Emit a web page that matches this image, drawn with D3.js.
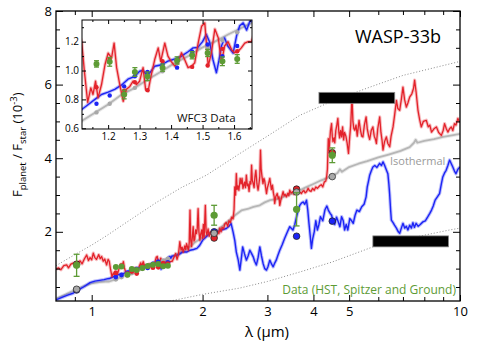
<!DOCTYPE html>
<html>
<head>
<meta charset="utf-8">
<script src="https://cdn.jsdelivr.net/npm/d3@7"></script>
<style>
body { margin: 0; background: #fff; }
</style>
</head>
<body>
<svg id="chart" width="479" height="349"></svg>
<script>
// ---- data (wavelength in micron, flux ratio in 1e-3) ----
var redModel = [
  [0.800,0.98],[0.812,1.02],[0.825,0.97],[0.84,1.08],[0.855,1.10],[0.865,1.02],[0.878,1.12],[0.891,1.15],[0.905,1.08],[0.918,1.18],
  [0.93,1.21],[0.942,1.13],[0.955,1.26],[0.969,1.37],[0.98,1.22],[0.99,1.30],[1.0,1.24],[1.01,1.42],[1.02,1.30],[1.03,1.25],
  [1.045,1.38],[1.055,1.27],[1.064,1.33],[1.075,1.20],[1.085,1.26],[1.098,1.10],[1.108,1.25],
  [1.116,1.20],[1.124,1.007],[1.135,0.78],[1.145,0.88],[1.152,0.834],[1.16,0.926],[1.168,0.81],[1.179,0.903],[1.19,1.04],[1.2,1.12],
  [1.211,1.088],[1.219,1.19],[1.227,1.02],[1.237,0.903],[1.248,0.787],[1.258,0.87],[1.269,0.89],[1.279,0.926],[1.29,0.903],[1.30,0.926],
  [1.311,1.02],[1.319,0.87],[1.327,0.857],[1.336,0.96],[1.348,1.076],[1.359,1.157],[1.367,1.064],[1.38,1.19],[1.39,1.10],[1.40,1.064],
  [1.412,1.03],[1.422,1.053],[1.433,1.123],[1.443,1.076],[1.454,1.02],[1.465,1.03],[1.475,1.053],[1.486,1.19],[1.497,1.307],[1.507,1.33],
  [1.518,1.03],[1.528,1.123],[1.539,1.287],[1.55,1.226],[1.56,1.053],[1.57,1.17],[1.581,1.20],[1.592,1.145],[1.602,1.123],[1.613,1.134],
  [1.623,1.157],[1.634,1.19],[1.645,1.20],[1.655,1.2],
  [1.672,1.30],[1.69,1.41],[1.705,1.25],[1.72,1.38],[1.735,1.73],[1.748,1.50],[1.76,1.58],[1.772,1.45],[1.79,1.62],[1.80,1.52],
  [1.81,1.68],[1.83,1.50],[1.84,1.70],[1.849,2.59],[1.858,1.75],[1.867,1.60],[1.876,1.85],[1.886,2.14],[1.895,1.75],[1.905,1.80],
  [1.915,2.05],[1.926,1.95],[1.935,2.10],[1.945,2.63],[1.955,2.0],[1.967,1.77],[1.978,1.95],[1.99,2.05],[2.0,1.82],[2.01,2.20],
  [2.02,1.85],[2.035,2.72],[2.045,2.0],[2.055,1.91],[2.07,2.08],[2.085,1.88],[2.10,2.0],[2.12,1.90],[2.14,1.83],[2.16,1.95],
  [2.18,1.88],[2.2,2.02],[2.215,1.95],[2.228,2.10],[2.245,2.0],[2.26,2.12],[2.28,2.08],[2.30,2.22],[2.32,2.25],[2.34,2.15],
  [2.36,2.30],[2.38,2.25],[2.40,2.40],[2.42,2.35],[2.435,2.6],[2.446,3.22],[2.458,3.0],[2.47,3.58],[2.482,3.15],[2.495,3.25],
  [2.51,3.13],[2.53,3.45],[2.545,3.3],[2.56,3.45],[2.575,3.18],[2.60,3.35],[2.615,3.2],[2.63,3.54],[2.645,3.25],[2.66,3.3],
  [2.675,3.1],[2.69,3.36],[2.705,3.3],[2.717,3.81],[2.73,3.4],[2.745,3.31],[2.76,3.2],[2.775,3.5],[2.791,3.67],[2.81,3.3],
  [2.83,3.13],[2.845,3.3],[2.86,3.5],[2.873,4.22],[2.885,3.7],[2.9,3.5],[2.918,3.31],[2.935,3.45],[2.95,3.38],[2.967,3.2],
  [2.983,3.04],[3.0,3.2],[3.02,3.3],[3.045,3.45],[3.06,3.3],[3.075,3.15],[3.095,3.27],[3.115,3.05],[3.13,2.95],[3.14,2.77],
  [3.16,2.95],[3.175,3.0],[3.19,3.04],[3.21,2.9],[3.225,2.95],[3.241,2.72],[3.26,2.85],[3.28,2.95],[3.309,3.09],[3.33,2.98],
  [3.35,3.02],[3.38,2.95],[3.41,3.05],[3.43,2.98],[3.45,3.13],[3.48,3.05],[3.51,3.09],[3.54,3.02],[3.57,3.12],[3.6,3.15],
  [3.64,3.10],[3.67,3.08],[3.71,3.04],[3.74,3.1],[3.77,3.12],[3.8,3.06],[3.83,3.09],[3.87,3.18],[3.9,3.12],[3.94,3.1],
  [3.98,3.18],[4.02,3.13],[4.06,3.22],[4.10,3.18],[4.16,3.25],[4.2,3.28],[4.24,3.22],[4.28,3.35],[4.32,3.38],[4.345,3.5],
  [4.365,3.7],[4.38,4.2],[4.39,4.53],[4.405,4.2],[4.42,4.35],[4.45,4.75],[4.48,4.94],[4.5,4.6],[4.52,4.45],[4.55,4.55],
  [4.57,4.42],[4.6,4.75],[4.63,4.9],[4.66,5.08],[4.69,4.7],[4.71,4.55],[4.74,4.75],[4.77,4.58],[4.80,4.85],[4.83,4.5],
  [4.86,4.7],[4.9,4.6],[4.94,4.4],[4.98,4.13],[5.02,4.6],[5.05,4.9],[5.09,5.66],[5.12,5.0],[5.15,4.8],[5.18,4.76],
  [5.22,4.9],[5.26,4.6],[5.32,5.03],[5.37,4.75],[5.41,4.6],[5.45,4.58],[5.5,4.9],[5.56,5.12],[5.6,4.8],[5.65,4.6],
  [5.686,4.51],[5.74,4.75],[5.80,4.85],[5.85,4.6],[5.9,4.5],[5.93,4.40],[5.98,4.8],[6.053,5.12],[6.1,4.7],[6.14,4.5],
  [6.18,4.22],[6.24,4.45],[6.31,4.58],[6.37,4.4],[6.443,4.31],[6.5,4.6],[6.58,4.85],[6.65,5.2],[6.72,5.57],[6.78,5.35],
  [6.858,5.30],[6.93,5.6],[7.0,5.93],[7.07,5.6],[7.15,5.39],[7.22,5.5],[7.3,5.66],[7.4,5.75],[7.48,5.9],[7.53,6.12],
  [7.6,5.8],[7.69,5.30],[7.77,5.05],[7.85,4.85],[7.95,5.0],[8.1,5.03],[8.2,4.85],[8.28,4.9],[8.37,4.71],[8.5,4.8],
  [8.63,4.85],[8.75,4.7],[8.9,4.62],[9.0,4.75],[9.08,4.94],[9.18,4.8],[9.27,4.71],[9.37,4.8],[9.47,4.85],[9.56,4.75],
  [9.66,4.94],[9.75,4.9],[9.87,5.08],[9.95,5.0],[10.0,4.98]
];

var blueModel = [
  [0.80,0.15],[0.83,0.22],[0.86,0.28],[0.89,0.33],[0.92,0.42],[0.95,0.50],[0.99,0.62],[1.02,0.66],[1.05,0.68],[1.08,0.70],[1.10,0.72],
  [1.116,0.73],[1.137,0.765],[1.158,0.80],[1.179,0.834],[1.20,0.85],[1.221,0.87],[1.243,0.90],[1.263,0.94],[1.285,0.96],[1.30,0.995],
  [1.311,1.0],[1.322,0.97],[1.333,0.985],[1.348,1.03],[1.37,1.04],[1.39,1.065],[1.412,1.08],[1.433,1.10],[1.454,1.13],[1.47,1.157],
  [1.485,1.16],[1.50,1.20],[1.512,1.25],[1.522,1.20],[1.533,1.075],[1.544,0.985],[1.552,1.07],[1.56,1.17],[1.57,1.226],[1.58,1.17],
  [1.597,1.12],[1.608,1.24],[1.618,1.31],[1.629,1.33],[1.64,1.28],[1.65,1.34],
  [1.70,1.36],[1.736,1.40],[1.77,1.46],[1.81,1.45],[1.85,1.50],[1.89,1.52],[1.93,1.55],[1.96,1.62],[2.0,1.77],[2.04,1.85],
  [2.09,1.96],[2.15,1.98],[2.2,2.0],[2.25,2.05],[2.32,2.09],[2.36,2.15],[2.39,2.23],[2.42,2.0],[2.446,1.77],[2.47,1.45],
  [2.50,1.23],[2.525,0.96],[2.55,1.3],[2.57,1.59],[2.60,1.4],[2.63,1.23],[2.66,1.35],[2.688,1.50],[2.72,1.40],[2.745,1.32],
  [2.77,1.2],[2.80,1.10],[2.83,1.3],[2.861,1.59],[2.89,1.35],[2.92,1.14],[2.95,1.0],[2.983,0.96],[3.01,1.05],[3.045,1.23],
  [3.08,1.12],[3.11,1.05],[3.14,1.15],[3.17,1.23],[3.2,1.35],[3.241,1.50],[3.29,1.65],[3.34,1.82],[3.4,2.0],[3.45,2.14],
  [3.52,2.05],[3.56,2.2],[3.6,2.41],[3.64,2.6],[3.673,2.72],[3.71,2.78],[3.75,2.81],[3.79,2.75],[3.83,2.86],[3.86,2.6],
  [3.89,2.23],[3.92,1.9],[3.95,1.55],[3.98,1.8],[4.02,2.0],[4.06,2.3],[4.10,2.05],[4.14,2.2],[4.18,2.41],[4.24,2.3],
  [4.30,2.6],[4.35,2.7],[4.39,2.59],[4.44,2.5],[4.48,2.45],[4.52,2.3],[4.57,2.2],[4.62,2.4],[4.66,2.3],[4.72,2.14],
  [4.77,2.41],[4.82,2.3],[4.86,2.05],[4.91,2.2],[4.96,2.05],[5.02,2.36],[5.08,2.3],[5.13,2.23],[5.19,2.45],[5.25,2.59],
  [5.33,2.55],[5.41,2.68],[5.49,2.75],[5.56,2.95],[5.6,3.22],[5.65,3.4],[5.686,3.54],[5.74,3.65],[5.80,3.76],[5.87,3.8],
  [5.95,3.75],[6.05,3.86],[6.12,3.8],[6.18,3.9],[6.24,3.81],[6.30,3.7],[6.37,3.58],[6.41,3.3],[6.44,3.04],[6.48,2.6],
  [6.51,2.32],[6.58,2.25],[6.64,2.18],[6.72,2.1],[6.8,2.0],[6.86,1.96],[6.93,2.1],[7.0,2.23],[7.08,2.1],[7.15,2.15],
  [7.22,2.05],[7.3,2.18],[7.38,2.1],[7.45,2.25],[7.52,2.12],[7.6,2.23],[7.7,2.15],[7.8,2.2],[7.93,2.27],[8.05,2.3],
  [8.18,2.41],[8.28,2.5],[8.37,2.59],[8.46,2.7],[8.56,2.86],[8.68,2.95],[8.8,3.04],[8.9,3.3],[8.98,3.49],[9.08,3.6],
  [9.17,3.67],[9.27,3.8],[9.37,3.95],[9.47,3.85],[9.56,3.76],[9.66,3.65],[9.75,3.58],[9.87,3.7],[10.0,3.76]
];

var isoModel = [
  [0.80,0.18],[0.85,0.30],[0.90,0.42],[0.95,0.52],[1.0,0.60],[1.05,0.63],[1.09,0.65],
  [1.116,0.65],[1.158,0.707],[1.20,0.765],[1.243,0.834],[1.285,0.88],[1.327,0.94],[1.37,0.995],[1.412,1.053],[1.454,1.10],
  [1.497,1.157],[1.539,1.20],[1.581,1.25],[1.623,1.295],[1.655,1.33],
  [1.70,1.38],[1.75,1.45],[1.80,1.52],[1.85,1.60],[1.90,1.70],[1.95,1.78],[2.0,1.85],[2.05,1.90],[2.1,1.94],[2.15,1.97],
  [2.2,2.05],[2.28,2.18],[2.37,2.32],[2.45,2.45],[2.55,2.58],[2.65,2.62],[2.75,2.68],[2.86,2.72],[2.95,2.8],[3.05,2.86],
  [3.15,2.88],[3.24,2.9],[3.4,3.0],[3.6,3.08],[3.8,3.2],[4.0,3.3],[4.2,3.4],[4.4,3.48],[4.5,3.52],[4.65,3.6],
  [4.72,3.7],[4.78,3.63],[5.0,3.76],[5.3,3.85],[5.6,3.92],[6.0,4.02],[6.4,4.1],[6.9,4.2],[7.3,4.3],[7.5,4.42],
  [7.58,4.5],[7.66,4.42],[8.0,4.47],[8.5,4.52],[9.0,4.58],[9.5,4.62],[10.0,4.66]
];

var upperBound = [[0.8,1.08],[0.9,1.38],[1.0,1.64],[1.1,1.9],[1.27,2.32],[1.5,2.8],[1.75,3.2],[2.05,3.54],[2.5,4.1],[3.0,4.6],[3.68,5.17],[4.5,5.55],[5.58,5.9],[7.0,6.25],[10.0,6.63]];
var lowerBound = [[1.6,0.10],[2.0,0.30],[2.52,0.47],[3.0,0.65],[3.68,0.91],[4.5,1.18],[5.8,1.59],[7.5,1.85],[9.37,2.05],[10.0,2.1]];

// WFC3 spectrum and model values binned to it
var wfcWave = [1.163,1.205,1.251,1.285,1.325,1.373,1.419,1.467,1.516,1.563,1.61];
var wfcFlux = [1.046,1.06,0.834,0.99,0.96,1.02,1.07,1.106,1.122,1.064,1.08];
var wfcErr  = [0.022,0.03,0.03,0.03,0.03,0.025,0.025,0.025,0.025,0.03,0.03];
var wfcRed  = [0.884,1.08,0.86,0.92,0.864,1.064,1.06,1.025,1.035,1.15,1.134];
var wfcBlue = [0.77,0.827,0.89,0.96,0.99,1.04,1.02,1.13,1.18,1.10,1.17];
var wfcIso  = [0.71,0.77,0.85,0.88,0.94,0.995,1.05,1.10,1.16,1.21,1.265];

// photometric points (ground z', Ks, Spitzer 3.6, 4.5) and binned models
var photWave = [0.91, 2.15, 3.6, 4.5];
var photFlux = [1.09, 2.45, 2.61, 4.08];
var photErr  = [0.30, 0.27, 0.45, 0.20];
var photRed  = [1.12, 1.83, 3.16, 4.15];
var photBlue = [0.42, 2.0, 1.88, 2.29];
var photIso  = [0.44, 1.96, 3.08, 3.50];

// black bands
var bandFrom = [4.14, 5.80];
var bandTo   = [6.65, 9.31];
var bandFlux = [5.64, 1.74];

// ticks
var xLabelTicks = [1, 2, 3, 4, 5, 10];
var xMinorTicks = [0.9, 6, 7, 8, 9];
var yLabelTicks = [2, 4, 6, 8];
var yMinorTicks = [0.5, 1, 1.5, 2.5, 3, 3.5, 4.5, 5, 5.5, 6.5, 7, 7.5];
var inXTicks = [1.2, 1.3, 1.4, 1.5, 1.6];
var inXMinor = [1.15, 1.25, 1.35, 1.45, 1.55, 1.65];
var inYTicks = [0.6, 0.8, 1.0, 1.2];
var inYMinor = [0.7, 0.9, 1.1, 1.3];

// ---- drawing ----
var FONT = "'Open Sans', 'DejaVu Sans', sans-serif";
var RED = "#e3222a", BLUE = "#1c24f5", GRAY = "#b6b6b6", GREEN = "#5d9b35";

var svg = d3.select("#chart");

var x = d3.scaleLog().domain([0.8, 10]).range([56, 460]);
var y = d3.scaleLinear().domain([0.12, 8]).range([301, 11]);
var xi = d3.scaleLinear().domain([1.117, 1.657]).range([82, 252]);
var yi = d3.scaleLinear().domain([0.595, 1.35]).range([129, 20]);

var defs = svg.append("defs");
defs.append("clipPath").attr("id", "clipMain").append("rect")
    .attr("x", 56).attr("y", 11).attr("width", 404).attr("height", 290);
defs.append("clipPath").attr("id", "clipInset").append("rect")
    .attr("x", 82).attr("y", 20).attr("width", 170).attr("height", 109);

function drawAxis(axis, tx, ty, vals, size, fmt, pad, fs) {
  var g = svg.append("g")
      .attr("transform", "translate(" + tx + "," + ty + ")")
      .call(axis.tickValues(vals).tickSizeInner(size).tickSizeOuter(0).tickPadding(pad).tickFormat(fmt));
  g.select(".domain").remove();
  g.attr("font-family", FONT).attr("font-size", fs);
  g.selectAll("line").attr("stroke", "#000").attr("stroke-width", 1);
  g.selectAll("text").attr("fill", "#000");
  return g;
}

// main plot content
var main = svg.append("g").attr("clip-path", "url(#clipMain)");

function curve(sx, sy) {
  return d3.line().x(function(d) { return sx(d[0]); }).y(function(d) { return sy(d[1]); });
}
var lineMain = curve(x, y);

main.append("path").attr("d", lineMain(upperBound)).attr("fill", "none")
    .attr("stroke", "#8a8a8a").attr("stroke-width", 1).attr("stroke-dasharray", "1,2");
main.append("path").attr("d", lineMain(lowerBound)).attr("fill", "none")
    .attr("stroke", "#8a8a8a").attr("stroke-width", 1).attr("stroke-dasharray", "1,2");

function drawModel(g, gen, data, color, w) {
  g.append("path").attr("d", gen(data)).attr("fill", "none")
      .attr("stroke", color).attr("stroke-opacity", 0.3).attr("stroke-width", w + 2)
      .attr("stroke-linejoin", "round");
  g.append("path").attr("d", gen(data)).attr("fill", "none")
      .attr("stroke", color).attr("stroke-width", w).attr("stroke-linejoin", "round");
}
drawModel(main, lineMain, isoModel, GRAY, 1.8);
drawModel(main, lineMain, blueModel, BLUE, 1.4);
drawModel(main, lineMain, redModel, RED, 1.3);

// black bands
bandFrom.forEach(function(lo, i) {
  main.append("rect")
      .attr("x", x(lo)).attr("width", x(bandTo[i]) - x(lo))
      .attr("y", y(bandFlux[i]) - 5.5).attr("height", 11)
      .attr("fill", "#000").attr("stroke", "#888").attr("stroke-width", 0.8);
});

function dots(g, sx, sy, xs, ys, color, r, stroke) {
  g.selectAll(null).data(xs).enter().append("circle")
      .attr("cx", function(d) { return sx(d); })
      .attr("cy", function(d, i) { return sy(ys[i]); })
      .attr("r", r).attr("fill", color)
      .attr("stroke", stroke).attr("stroke-width", stroke === "none" ? 0 : 0.8);
}
function errPoints(g, sx, sy, xs, ys, es, r, cap) {
  xs.forEach(function(w, i) {
    var cx = sx(w);
    g.append("line").attr("x1", cx).attr("x2", cx)
        .attr("y1", sy(ys[i] - es[i])).attr("y2", sy(ys[i] + es[i]))
        .attr("stroke", GREEN).attr("stroke-width", 1.3);
    [ys[i] - es[i], ys[i] + es[i]].forEach(function(v) {
      g.append("line").attr("x1", cx - cap).attr("x2", cx + cap)
          .attr("y1", sy(v)).attr("y2", sy(v))
          .attr("stroke", GREEN).attr("stroke-width", 1.3);
    });
    g.append("circle").attr("cx", cx).attr("cy", sy(ys[i])).attr("r", r).attr("fill", GREEN);
  });
}

// binned model points in the main panel
dots(main, x, y, wfcWave, wfcIso, "#a8a8a8", 2.4, "none");
dots(main, x, y, wfcWave, wfcBlue, BLUE, 2.4, "none");
dots(main, x, y, wfcWave, wfcRed, RED, 2.4, "none");
dots(main, x, y, photWave, photBlue, BLUE, 3.3, "#222");
dots(main, x, y, photWave, photRed, RED, 3.3, "#222");
dots(main, x, y, photWave, photIso, "#a9a9a9", 3.3, "#333");
errPoints(main, x, y, wfcWave, wfcFlux, wfcErr, 3, 1.5);
errPoints(main, x, y, photWave, photFlux, photErr, 3.6, 3);

// main axes
drawAxis(d3.axisBottom(x), 0, 301, xLabelTicks, -6, d3.format("d"), 6, 13);
drawAxis(d3.axisBottom(x), 0, 301, xMinorTicks, -4, "", 6, 13);
drawAxis(d3.axisTop(x), 0, 11, xLabelTicks, -6, "", 3, 13);
drawAxis(d3.axisTop(x), 0, 11, xMinorTicks, -4, "", 3, 13);
drawAxis(d3.axisLeft(y), 56, 0, yLabelTicks, -7, d3.format("d"), 4, 13);
drawAxis(d3.axisLeft(y), 56, 0, yMinorTicks, -4, "", 4, 13);
drawAxis(d3.axisRight(y), 460, 0, yLabelTicks, -7, "", 4, 13);
drawAxis(d3.axisRight(y), 460, 0, yMinorTicks, -4, "", 4, 13);

svg.append("rect").attr("x", 56).attr("y", 11).attr("width", 404).attr("height", 290)
    .attr("fill", "none").attr("stroke", "#000").attr("stroke-width", 1.3);

// texts
svg.append("text").attr("x", 355).attr("y", 43).attr("font-family", FONT)
    .attr("font-size", 18).attr("fill", "#000").text("WASP-33b");
svg.append("text").attr("x", 390).attr("y", 165).attr("font-family", FONT)
    .attr("font-size", 11).attr("fill", "#9a9a9a").text("Isothermal");
svg.append("text").attr("x", 456).attr("y", 294).attr("text-anchor", "end").attr("font-family", FONT)
    .attr("font-size", 12).attr("fill", GREEN).text("Data (HST, Spitzer and Ground)");
svg.append("text").attr("x", 267).attr("y", 337).attr("text-anchor", "middle").attr("font-family", FONT)
    .attr("font-size", 15).attr("fill", "#000").text("λ (µm)");

var yl = svg.append("text").attr("transform", "translate(22,197) rotate(-90)")
    .attr("font-family", FONT).attr("font-size", 13).attr("fill", "#000");
yl.append("tspan").text("F");
yl.append("tspan").attr("font-size", 9.5).attr("dy", 4).text("planet");
yl.append("tspan").attr("dy", -4).text(" / F");
yl.append("tspan").attr("font-size", 9.5).attr("dy", 4).text("star");
yl.append("tspan").attr("dy", -4).text(" (10");
yl.append("tspan").attr("font-size", 9.5).attr("dy", -5).text("-3");
yl.append("tspan").attr("dy", 5).text(")");

// ---- inset ----
svg.append("rect").attr("x", 82).attr("y", 20).attr("width", 170).attr("height", 109).attr("fill", "#fff");
var inset = svg.append("g").attr("clip-path", "url(#clipInset)");
var lineIn = curve(xi, yi);
drawModel(inset, lineIn, isoModel, GRAY, 1.8);
drawModel(inset, lineIn, blueModel, BLUE, 1.4);
drawModel(inset, lineIn, redModel, RED, 1.3);
dots(inset, xi, yi, wfcWave, wfcIso, "#a8a8a8", 2.2, "none");
dots(inset, xi, yi, wfcWave, wfcBlue, BLUE, 2.2, "none");
dots(inset, xi, yi, wfcWave, wfcRed, RED, 2.2, "none");
errPoints(inset, xi, yi, wfcWave, wfcFlux, wfcErr, 3, 2.5);

drawAxis(d3.axisBottom(xi), 0, 129, inXTicks, -4, d3.format(".1f"), 4, 10);
drawAxis(d3.axisBottom(xi), 0, 129, inXMinor, -2, "", 4, 10);
drawAxis(d3.axisTop(xi), 0, 20, inXTicks, -4, "", 3, 10);
drawAxis(d3.axisTop(xi), 0, 20, inXMinor, -2, "", 3, 10);
drawAxis(d3.axisLeft(yi), 82, 0, inYTicks, -4, d3.format(".1f"), 3, 10);
drawAxis(d3.axisLeft(yi), 82, 0, inYMinor, -2, "", 3, 10);
drawAxis(d3.axisRight(yi), 252, 0, inYTicks, -4, "", 3, 10);
drawAxis(d3.axisRight(yi), 252, 0, inYMinor, -2, "", 3, 10);

svg.append("rect").attr("x", 82).attr("y", 20).attr("width", 170).attr("height", 109)
    .attr("fill", "none").attr("stroke", "#000").attr("stroke-width", 1);
svg.append("text").attr("x", 177).attr("y", 122).attr("font-family", FONT)
    .attr("font-size", 11.5).attr("fill", "#111").text("WFC3 Data");
</script>
</body>
</html>
